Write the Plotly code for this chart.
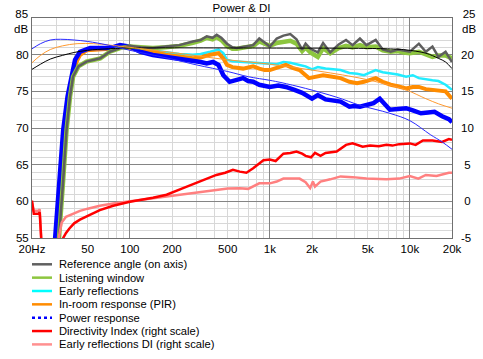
import plotly.graph_objects as go
import math

# ---------------- data ----------------
x_ticks = [20, 50, 100, 200, 500, 1000, 2000, 5000, 10000, 20000]
x_ticktext = ["20Hz", "50", "100", "200", "500", "1k", "2k", "5k", "10k", "20k"]
y_ticks = [55, 60, 65, 70, 75, 80, 85]
y_ticktext = ["55", "60", "65", "70", "75", "80", ""]
y2_ticks = [-5, 0, 5, 10, 15, 20, 25]
y2_ticktext = ["-5", "\u00a00", "\u00a05", "10", "15", "20", ""]

f_on = [27, 31.2, 33.4, 35.3, 37.4, 39.3, 42.9, 49, 61.5, 72, 85, 100, 120, 146, 180, 226, 282, 320, 354, 390,
        417, 450, 494, 540, 580, 684, 760, 840, 920, 1000, 1120, 1250, 1400, 1550, 1700, 1800, 1950, 2200,
        2400, 2700, 3100, 3500, 3900, 4400, 4900, 5700, 6400, 7300, 8200, 9000, 10000, 11600, 13000, 14500,
        16000, 18000, 20000]
on_axis = [46, 55, 62.9, 69.7, 74.3, 77.0, 78.4, 79.05, 79.5, 80.4, 80.9, 81.2, 81.0, 80.9, 81.1, 81.3, 81.8,
           82.0, 82.5, 82.3, 82.7, 82.3, 81.5, 81.0, 80.9, 81.1, 81.3, 82.2, 81.6, 81.1, 82.2, 82.6, 82.8, 82.1,
           80.7, 81.5, 80.8, 80.3, 81.6, 80.3, 81.4, 82.0, 81.3, 82.2, 81.3, 82.0, 80.7, 80.4, 80.7, 80.6, 80.4,
           81.5, 80.4, 81.1, 79.7, 80.4, 79.0]
listening = [46, 55, 62.9, 69.7, 74.3, 77.0, 78.4, 79.05, 79.5, 80.4, 80.9, 81.1, 81.0, 80.9, 81.0, 81.2, 81.6,
             81.9, 82.3, 82.1, 82.4, 82.0, 81.2, 80.8, 80.8, 81.0, 81.2, 81.8, 81.4, 81.2, 81.6, 81.8, 81.9, 81.5,
             80.5, 81.0, 80.3, 79.7, 80.9, 80.2, 80.9, 81.2, 81.0, 81.3, 81.0, 81.1, 80.6, 80.4, 80.5, 80.3, 80.2,
             80.4, 80.1, 79.7, 79.9, 79.9, 79.5]

f_er = [27, 29.5, 31.5, 33.7, 36.3, 39, 41, 44.5, 52, 72, 85, 100, 120, 146, 180, 226, 282, 320, 375, 430, 465,
        494, 540, 644, 760, 840, 1000, 1120, 1250, 1400, 1630, 1800, 2000, 2200, 2500, 2800, 3200, 3700, 4200,
        4700, 5200, 5700, 6400, 7200, 8200, 9400, 10500, 11600, 13000, 14500, 16000, 18000, 20000]
early_refl = [46, 55, 62.9, 69.7, 74.3, 77.5, 79.3, 80.2, 80.7, 80.8, 81.1, 81.0, 80.8, 80.6, 80.3, 80.1, 80.0,
              80.1, 80.4, 80.7, 80.2, 79.3, 79.1, 79.0, 78.9, 78.8, 78.7, 78.7, 79.0, 78.9, 78.6, 78.4, 78.0,
              78.3, 78.1, 78.0, 77.9, 77.5, 77.4, 77.2, 77.6, 77.9, 77.6, 77.5, 77.3, 77.0, 77.2, 76.8, 76.7,
              76.5, 76.4, 75.9, 75.2]

f_pir = [27, 30, 32, 34.2, 36.8, 39.6, 42, 44, 49, 60, 72, 85, 100, 120, 146, 180, 226, 282, 320, 375, 430, 465,
         494, 540, 644, 760, 840, 920, 1000, 1120, 1300, 1450, 1630, 1900, 2100, 2400, 2800, 3200, 3700, 4200,
         4700, 5200, 5700, 6400, 7300, 8200, 9400, 10500, 11600, 13000, 14500, 16000, 18000, 20000]
pir = [46, 55, 62.9, 69.7, 74.3, 77.5, 79.2, 79.95, 80.6, 80.7, 80.8, 81.1, 80.9, 80.6, 80.4, 80.0, 79.7, 79.5,
       79.6, 80.0, 80.2, 79.5, 78.6, 78.3, 78.1, 78.4, 78.1, 77.9, 77.9, 78.2, 78.6, 78.2, 77.9, 76.8, 77.0, 77.2,
       77.0, 76.8, 76.3, 76.1, 76.3, 76.5, 76.8, 76.3, 75.9, 75.7, 75.4, 75.6, 75.6, 75.3, 75.2, 75.1, 75.0, 74.0]

f_pwr = [27, 29.2, 31.2, 33.4, 35.9, 38.6, 40.6, 44, 52, 72, 85, 100, 118, 146, 180, 226, 282, 320, 354, 393, 430,
         465, 516, 575, 644, 700, 760, 840, 1000, 1150, 1300, 1500, 1700, 2000, 2200, 2500, 2800, 3200, 3700,
         4000, 4400, 5000, 5500, 6100, 6600, 7200, 8200, 9400, 10500, 12000, 13500, 15000, 17000, 19000, 20000]
power = [46, 55, 62.9, 69.7, 74.3, 77.5, 79.3, 80.4, 80.9, 80.9, 81.3, 81.1, 80.4, 79.95, 79.7, 79.5, 79.3, 79.0,
         78.8, 79.0, 78.6, 77.2, 76.3, 76.5, 76.8, 76.4, 76.3, 75.9, 75.6, 75.8, 75.6, 75.2, 74.8, 74.0, 74.5,
         73.9, 73.8, 73.6, 72.9, 73.0, 72.9, 73.1, 73.4, 74.0, 73.3, 72.5, 72.6, 72.7, 72.4, 72.0, 72.1, 72.2,
         71.6, 71.2, 70.8]

# smooth target / trend curves
f_lw_t = [20, 23, 27, 33, 40, 50, 70, 100, 1000, 5000, 8000, 9400, 13000, 16000, 18000, 20000]
lw_target = [78.0, 78.7, 79.4, 79.9, 80.3, 80.6, 80.8, 80.9, 80.9, 80.85, 80.75, 80.65, 80.2, 79.5, 79.0, 78.1]
f_pir_t = [20, 23, 27, 33, 42, 55, 72, 100, 200, 500, 1000, 2000, 4400, 7000, 9400, 13000, 16000, 20000]
pir_target = [78.9, 79.9, 80.7, 81.2, 81.5, 81.5, 81.3, 81.0, 80.3, 79.3, 78.7, 77.9, 76.8, 75.9, 75.2, 74.0,
              73.3, 72.7]
f_pwr_t = [20, 23, 27, 32, 40, 50, 70, 100, 118, 150, 200, 300, 500, 700, 1000, 1200, 1800, 3000, 4400, 7200,
           10000, 14000, 17000, 20000]
pwr_target = [80.8, 81.5, 82.0, 82.1, 82.0, 81.8, 81.3, 80.6, 80.3, 79.9, 79.4, 78.6, 77.7, 77.0, 76.5, 76.2,
              75.4, 74.2, 73.1, 72.0, 71.0, 69.1, 68.1, 67.1]

# directivity indices (right scale)
f_di = [20, 20.6, 22.2, 22.7, 23.5, 28, 33.4, 35, 37, 40, 44, 52, 61, 76, 100, 146, 183, 240, 280, 316, 360, 415,
        480, 545, 610, 680, 760, 900, 1000, 1100, 1250, 1400, 1550, 1700, 1800, 1970, 2100, 2300, 2500, 3000,
        3500, 3900, 4600, 5200, 6000, 6800, 7500, 8400, 10000, 11000, 12400, 14500, 17000, 19000, 20000]
di = [0.1, -1.7, -1.7, -1.5, -6.5, -10, -5, -4.3, -3.7, -3.0, -2.5, -1.8, -1.2, -0.6, -0.05, 0.5, 0.9, 1.8, 2.3,
      2.7, 3.2, 3.6, 3.9, 4.3, 4.05, 3.9, 4.5, 5.6, 5.7, 5.5, 6.5, 6.6, 6.8, 6.5, 6.2, 6.0, 6.6, 6.2, 6.6, 6.8,
      7.7, 7.9, 7.45, 7.6, 7.5, 7.7, 7.6, 7.8, 7.9, 7.7, 8.3, 8.3, 8.1, 8.5, 8.4]
f_erdi = [20, 20.6, 22.2, 22.7, 23.5, 28, 30.8, 32.6, 35, 40, 44, 50, 61, 76, 100, 183, 316, 415, 500, 610, 700,
          840, 1000, 1120, 1250, 1630, 1800, 1940, 2030, 2100, 2300, 2700, 3200, 3900, 4900, 6800, 8400, 10000,
          11500, 13000, 15500, 19000, 20000]
er_di = [-0.2, -1.3, -1.3, -1.1, -6.5, -9, -5.3, -2.9, -2.1, -1.6, -1.3, -1.0, -0.6, -0.3, 0.0, 0.65, 1.3, 1.6,
         1.75, 1.8, 1.7, 2.45, 2.45, 2.7, 3.1, 3.1, 2.6, 1.8, 2.7, 2.0, 2.7, 3.0, 3.4, 3.3, 3.1, 3.0, 3.1, 3.45,
         3.1, 3.6, 3.45, 3.9, 3.9]

legend_names = ["Reference angle (on axis)", "Listening window", "Early reflections",
                "In-room response (PIR)", "Power response", "Directivity Index (right scale)",
                "Early reflections DI (right scale)"]
legend_colors = ["#606060", "#8dc63f", "#00ffff", "#ff8c00", "#0000ff", "#ff0000", "#ff9090"]

# ---------------- figure ----------------
W, H = 483, 359
L, R, T, B = 32, 31, 18, 121
FONT = "Liberation Sans, Arial, sans-serif"

fig = go.Figure()

def thick(x, y, color, width, yaxis="y"):
    fig.add_trace(go.Scatter(x=x, y=y, mode="lines", line=dict(color=color, width=width),
                             xaxis="x", yaxis=yaxis, showlegend=False, hoverinfo="skip"))

thick(f_er, early_refl, "#22ecff", 2.5)
thick(f_pir, pir, "#ff8c00", 4)
thick(f_pwr, power, "#0000ff", 4.5)
thick(f_on, listening, "#8dc63f", 4.5)
thick(f_on, on_axis, "#5e5e5e", 2.5)

def thin(x, y, color):
    fig.add_trace(go.Scatter(x=x, y=y, mode="lines", line=dict(color=color, width=1, shape="spline", smoothing=1),
                             xaxis="x2", yaxis="y", showlegend=False, hoverinfo="skip"))

thin(f_lw_t, lw_target, "#000000")
thin(f_pir_t, pir_target, "#ff9a30")
thin(f_pwr_t, pwr_target, "#2a2aff")

thick(f_erdi, er_di, "#ff8080", 2.5, yaxis="y2")
thick(f_di, di, "#ff0000", 2.5, yaxis="y2")

xr = [math.log10(20), math.log10(20000)]
minor_x = [m * d for d in (10, 100, 1000) for m in range(2, 10) if not (d == 10 and m == 2)]

fig.update_layout(
    width=W, height=H,
    margin=dict(l=L, r=R, t=T, b=B, pad=0),
    paper_bgcolor="white", plot_bgcolor="white",
    font=dict(family=FONT, size=11.5, color="#000000"),
    showlegend=False,
    title=dict(text="Power & DI", x=0.5, xanchor="center", y=1 - 8 / H, yanchor="middle",
               font=dict(family=FONT, size=11.5, color="#000000")),
    xaxis=dict(type="log", range=xr, tickvals=x_ticks, ticktext=x_ticktext, showgrid=False,
               showline=True, mirror=True, linecolor="#707070", linewidth=1, ticks="",
               zeroline=False, automargin=False, tickfont=dict(size=11.5, color="#000")),
    xaxis2=dict(type="log", range=xr, overlaying="x", anchor="y", side="bottom",
                tickvals=[100, 1000, 10000], showticklabels=False, ticks="", automargin=False,
                showgrid=True, gridcolor="#858585", gridwidth=1, showline=False, zeroline=False,
                minor=dict(tickvals=minor_x, showgrid=True, gridcolor="#d8d8d8", gridwidth=1, ticks="")),
    yaxis=dict(range=[55, 85], tickvals=y_ticks, ticktext=y_ticktext, showgrid=True, gridcolor="#858585",
               gridwidth=1, automargin=False,
               minor=dict(dtick=1, showgrid=True, gridcolor="#d8d8d8", gridwidth=1, ticks=""),
               showline=True, mirror=True, linecolor="#707070", linewidth=1, ticks="", zeroline=False,
               tickfont=dict(size=11.5, color="#000")),
    yaxis2=dict(range=[-5, 25], overlaying="y", side="right", anchor="x", tickvals=y2_ticks,
                ticktext=y2_ticktext, showgrid=False, zeroline=False, ticks="", showline=False,
                automargin=False, ticklabelstandoff=8, tickfont=dict(size=11.5, color="#000")),
)

pw, ph = W - L - R, H - T - B

def px(xp):
    return (xp - L) / pw

def py(yp):
    return (H - B - yp) / ph

# top tick values with unit labels
fig.add_annotation(text="85<br>dB", x=px(29.5), y=py(21.5), xref="paper", yref="paper", xanchor="right",
                   yanchor="middle", align="right", showarrow=False,
                   font=dict(family=FONT, size=11.5, color="#000"))
fig.add_annotation(text="25<br>dB", x=px(469), y=py(21.5), xref="paper", yref="paper", xanchor="center",
                   yanchor="middle", align="center", showarrow=False,
                   font=dict(family=FONT, size=11.5, color="#000"))

# manual legend
row0, step = 264.3, 13.35
for i, (name, col) in enumerate(zip(legend_names, legend_colors)):
    yy = row0 + i * step
    fig.add_shape(type="line", xref="paper", yref="paper", x0=px(32), x1=px(52), y0=py(yy), y1=py(yy),
                  line=dict(color=col, width=2.5, dash="dot" if i == 4 else "solid"))
    fig.add_annotation(text=name, x=px(57), y=py(yy), xref="paper", yref="paper", xanchor="left",
                       yanchor="middle", showarrow=False, font=dict(family=FONT, size=11.2, color="#000"))

fig.write_html("out.html", config={"displayModeBar": False},
               post_script="document.body.style.margin='0px';")
